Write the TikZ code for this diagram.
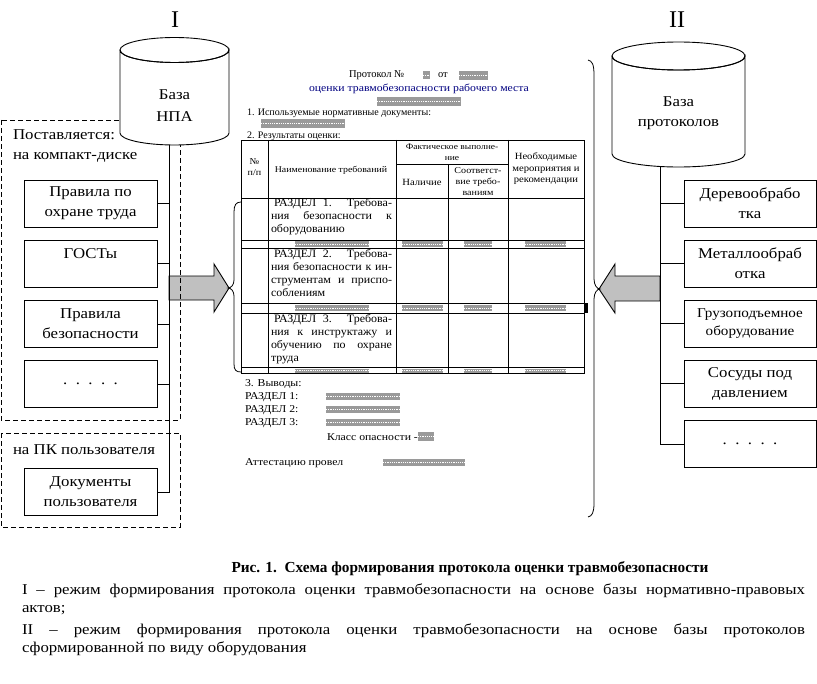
\documentclass[tikz,border=0pt]{standalone}
\usepackage{fontspec}
\setmainfont{Liberation Serif}
\newfontfamily\wide[FakeStretch=1.12]{Liberation Serif}
\newfontfamily\semiwide[FakeStretch=1.06]{Liberation Serif}
\definecolor{arrgray}{HTML}{C0C0C0}
\definecolor{phgray}{HTML}{9A9A9A}
\definecolor{navyblue}{HTML}{000080}
\newcommand\fsz[2]{\fontsize{#1bp}{#2bp}\selectfont}
\newcommand\phbox[4]{\fill[phgray] (#1,#2) rectangle (#3,#4); \draw[white, line width=0.6bp, dash pattern=on 1.2bp off 1bp] (#1,{(#2+#4)/2}) -- (#3,{(#2+#4)/2});}
\newcommand\jl[1]{\makebox[121bp][s]{#1}}
\begin{document}
\begin{tikzpicture}[x=1bp,y=-1bp, line width=0.9bp,
 every node/.style={inner sep=0pt, outer sep=0pt},
 box/.style={draw, line width=0.9bp, minimum width=133bp, minimum height=47bp, align=center, font=\wide\fsz{15}{20}},
 rbox/.style={box, minimum width=132bp},
 dbox/.style={line width=0.9bp, dash pattern=on 5bp off 3bp},
 arrowshape/.style={draw, fill=arrgray, line width=0.9bp},
 txt/.style={anchor=west, font=\wide\fsz{15}{20}},
 doc/.style={anchor=west, font=\fsz{10}{12}},
 hdr/.style={align=center, font=\wide\fsz{9}{11.5}},
 sec/.style={anchor=north west, align=left, font=\semiwide\fsz{11.3}{13}},
 concl/.style={anchor=west, font=\wide\fsz{10.5}{13}},
 capline/.style={anchor=west, font=\wide\fsz{15}{18}},
]
\useasboundingbox (0,0) rectangle (817,684);

% ---------- left arrow ----------
\draw[arrowshape] (169,276) -- (214,276) -- (214,264) -- (229,288) -- (214,312) -- (214,300) -- (169,300) -- cycle;

% ---------- dashed groups ----------
\draw[dbox] (1,120) rectangle (180,420);
\draw[dbox] (1,433) rectangle (180,527);

% ---------- left cylinder ----------
\draw[fill=white] (120,50) -- (120,133) arc[start angle=180,end angle=0,x radius=54.5,y radius=12] -- (229,50) arc[start angle=0,end angle=180,x radius=54.5,y radius=12.5] -- cycle;
\draw (174.5,50) ellipse [x radius=54.5, y radius=12.5];
\node[font=\wide\fsz{15}{22}, align=center] (npa) at (174.5,106) {База\\НПА};
\node[font=\fsz{24}{24}] (lab1) at (175,20) {I};
\coordinate (npabot) at (169,145);

\node[txt] (sup) at (13,135) {Поставляется:};
\node[txt] (cd) at (13,157) {на компакт-диске};
\node[txt] (pc) at (13,450) {на ПК пользователя};

\node[box] (b1) at (90.5,203.5) {Правила по\\охране труда};
\node[box] (b2) at (90.5,263.5) {ГОСТы\\\mbox{}};
\node[box] (b3) at (90.5,324) {Правила\\безопасности};
\node[box] (b4) at (90.5,384) {.\ \ .\ \ .\ \ .\ \ .};
\node[box] (b5) at (90.5,492) {Документы\\пользователя};

\draw (npabot) |- (b5.east);
\foreach \n in {b1,b2,b3,b4} \draw (\n.east) -- (\n.east -| npabot);

% ---------- right arrow ----------
\draw[arrowshape] (660,276) -- (615,276) -- (615,264) -- (599,289) -- (615,313) -- (615,301) -- (660,301) -- cycle;

% ---------- right cylinder ----------
\draw[fill=white] (612,56) -- (612,154) arc[start angle=180,end angle=0,x radius=66.5,y radius=13] -- (745,56) arc[start angle=0,end angle=180,x radius=66.5,y radius=14] -- cycle;
\draw (678.5,56) ellipse [x radius=66.5, y radius=14];
\node[font=\wide\fsz{15}{20}, align=center] (prot) at (678.5,113) {База\\протоколов};
\node[font=\fsz{24}{24}] (lab2) at (677,20) {II};
\coordinate (protbot) at (660,166.5);

\node[rbox] (r1) at (750,203.5) {Деревообрабо\\тка};
\node[rbox] (r2) at (750,263.5) {Металлообраб\\отка};
\node[rbox, font=\wide\fsz{13.5}{18}] (r3) at (750,323.5) {Грузоподъемное\\оборудование};
\node[rbox] (r4) at (750,383.5) {Сосуды под\\давлением};
\node[rbox] (r5) at (750,444) {.\ \ .\ \ .\ \ .\ \ .};

\draw (protbot) |- (r5.west);
\foreach \n in {r1,r2,r3,r4} \draw (\n.west) -- (\n.west -| protbot);

% ---------- braces ----------
\draw[line width=0.8bp] (241,202) .. controls (236,202) and (234,205) .. (234,212) -- (234,280) .. controls (234,285) and (231,288) .. (228,288) .. controls (231,288) and (234,291) .. (234,296) -- (234,364) .. controls (234,370) and (236,372) .. (241,372);
\draw[line width=0.8bp] (588,60) .. controls (592,61) and (594,64) .. (594,75) -- (594,279) .. controls (594,285) and (597,289) .. (600,289) .. controls (597,289) and (594,293) .. (594,299) -- (594,503) .. controls (594,513) and (592,516) .. (588,517);

% ---------- protocol ----------
\node[doc, font=\fsz{10.5}{12}] (ptitle) at (349,75) {Протокол №};
\phbox{423}{71}{430}{79}
\node[doc, font=\fsz{10.5}{12}] (ot) at (438,75) {от};
\phbox{459}{71}{488}{80}
\node[doc, font=\wide\fsz{10.5}{12}, text=navyblue] (psub) at (309,89) {оценки травмобезопасности рабочего места};
\phbox{377}{97}{461}{106}
\node[doc] (p1) at (247,113) {1. Используемые нормативные документы:};
\phbox{261}{119}{345}{128}
\node[doc] (p2) at (247,136) {2. Результаты оценки:};

% table
\draw[line width=0.8bp] (241,140) rectangle (584,373);
\foreach \y in {198,240,248,303,313,367} \draw[line width=0.8bp] (241,\y) -- (584,\y);
\draw[line width=0.8bp] (396,164) -- (508,164);
\foreach \x in {268,396,508} \draw[line width=0.8bp] (\x,140) -- (\x,373);
\draw[line width=0.8bp] (448,164) -- (448,373);
\fill (584,303) rectangle (587.5,313);

\node[hdr] (hn) at (254.5,167) {№\\п/п};
\node[hdr, font=\wide\fsz{8.8}{11.5}] (hname) at (331,170) {Наименование требований};
\node[hdr, font=\wide\fsz{8.5}{11}] (hfact) at (452,152) {Фактическое выполне-\\ние};
\node[hdr, font=\wide\fsz{9.5}{11.5}] (hnal) at (422,182) {Наличие};
\node[hdr, font=\wide\fsz{9}{11}] (hsoot) at (478,182) {Соответст-\\вие требо-\\ваниям};
\node[hdr, font=\wide\fsz{9.5}{11.5}] (hneed) at (546,169) {Необходимые\\мероприятия и\\рекомендации};

\node[sec] (s1) at (271,198.5) {\jl{\hspace*{3bp}РАЗДЕЛ 1. Требова-}\\\jl{ния безопасности к}\\оборудованию};
\node[sec] (s2) at (271,249) {\jl{\hspace*{3bp}РАЗДЕЛ 2. Требова-}\\\jl{ния безопасности к ин-}\\\jl{струментам и приспо-}\\соблениям};
\node[sec] (s3) at (271,314) {\jl{\hspace*{3bp}РАЗДЕЛ 3. Требова-}\\\jl{ния к инструктажу и}\\\jl{обучению по охране}\\труда};

\foreach \a/\b in {241/247, 305/311, 368.5/372.5} {
  \phbox{295}{\a}{369}{\b}
  \phbox{402}{\a}{443}{\b}
  \phbox{464}{\a}{492}{\b}
  \phbox{525}{\a}{566}{\b}
}

% conclusions
\node[concl] (v0) at (245,384) {3. Выводы:};
\node[concl] (v1) at (245,397) {РАЗДЕЛ 1:};
\node[concl] (v2) at (245,410) {РАЗДЕЛ 2:};
\node[concl] (v3) at (245,423) {РАЗДЕЛ 3:};
\phbox{326}{393}{400}{400}
\phbox{326}{406}{400}{413}
\phbox{326}{419}{400}{426}
\node[concl] (kl) at (327,437) {Класс опасности -};
\phbox{418}{432}{434}{441}
\node[concl] (att) at (245,463) {Аттестацию провел};
\phbox{383}{459}{465}{466}

% ---------- caption ----------
\node[font=\bfseries\fsz{15.3}{18}] (cap) at (470,569) {Рис. 1.\ \ Схема формирования протокола оценки травмобезопасности};
\node[capline] (l1) at (22,591) {\makebox[783bp][s]{I – режим формирования протокола оценки травмобезопасности на основе базы нормативно-правовых}};
\node[capline] (l2) at (22,610) {актов;};
\node[capline] (l3) at (22,631) {\makebox[783bp][s]{II – режим формирования протокола оценки травмобезопасности на основе базы протоколов}};
\node[capline] (l4) at (22,649) {сформированной по виду оборудования};
\end{tikzpicture}
\end{document}
